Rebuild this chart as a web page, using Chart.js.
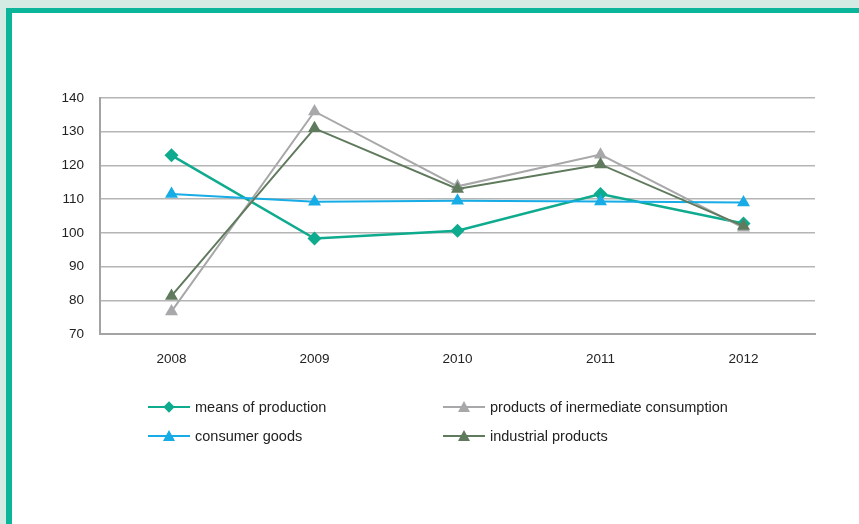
<!DOCTYPE html>
<html>
<head>
<meta charset="utf-8">
<script src="https://cdn.jsdelivr.net/npm/chart.js@4"></script>
<style>
  html, body { margin: 0; padding: 0; }
  body { width: 859px; height: 524px; background: #d3ebe3; position: relative; overflow: hidden; font-family: "Liberation Sans", Arial, sans-serif; }
  #frame { position: absolute; left: 6px; top: 8px; width: 853px; height: 516px; background: #0bb59a; }
  #panel { position: absolute; left: 12px; top: 13px; width: 847px; height: 511px; background: #fff; }
  #chart { position: absolute; left: 0; top: 0; }
  #legend { position: absolute; left: 0; top: 0; width: 859px; height: 524px; pointer-events: none; }
  .item { position: absolute; height: 18px; font-size: 14.5px; color: #222; line-height: 18px; }
  .item .ln { position: absolute; left: 0; top: 8px; width: 42px; height: 2px; }
  .item .mk { position: absolute; }
  .item span { position: absolute; left: 47px; top: 0; white-space: nowrap; }
</style>
</head>
<body>
<div id="frame"></div>
<div id="panel"></div>
<canvas id="chart" width="859" height="524"></canvas>
<div id="legend"></div>
<script>
const years = ['2008', '2009', '2010', '2011', '2012'];
const meansOfProduction = [123, 98.3, 100.6, 111.5, 102.8];
const intermediateProducts = [76.7, 136, 113.8, 123.2, 101.5];
const consumerGoods = [111.5, 109.2, 109.5, 109.3, 109.0];
const industrialProducts = [81.3, 131, 113, 120.3, 102];
const yTicks = [70, 80, 90, 100, 110, 120, 130, 140];

const series = [
    { label: 'means of production', data: meansOfProduction, color: '#0eab8e', shape: 'rectRot', width: 2.5, order: 3, legend: [148, 398] },
    { label: 'products of inermediate consumption', data: intermediateProducts, color: '#a8a8aa', shape: 'triangle', width: 2, order: 2, legend: [443, 398] },
    { label: 'consumer goods', data: consumerGoods, color: '#17ace6', shape: 'triangle', width: 2, order: 1, legend: [148, 427] },
    { label: 'industrial products', data: industrialProducts, color: '#5f7a5c', shape: 'triangle', width: 2, order: 0, legend: [443, 427] }
];

const ctx = document.getElementById('chart').getContext('2d');
new Chart(ctx, {
    type: 'line',
    data: {
        labels: years,
        datasets: series.map(s => ({
            label: s.label,
            data: s.data,
            borderColor: s.color,
            backgroundColor: s.color,
            borderWidth: s.width,
            pointStyle: s.shape,
            pointRadius: s.shape === 'rectRot' ? 7 : 7.5,
            pointBorderWidth: 0,
            pointBackgroundColor: s.color,
            tension: 0,
            order: s.order
        }))
    },
    options: {
        responsive: false,
        animation: false,
        events: [],
        layout: { padding: { left: 0, top: 98, right: 44, bottom: 0 } },
        plugins: { legend: { display: false }, tooltip: { enabled: false } },
        scales: {
            x: {
                offset: true,
                grid: { display: false, drawTicks: false },
                border: { color: '#a3a3a3', width: 2 },
                ticks: { color: '#222', font: { family: 'Liberation Sans', size: 13.5 }, padding: 17 },
                afterFit: axis => { axis.height = 524 - 334; }
            },
            y: {
                min: 70,
                max: 140,
                afterBuildTicks: axis => { axis.ticks = yTicks.map(v => ({ value: v })); },
                grid: { color: '#b5b5b5', lineWidth: 1.5, drawTicks: false },
                border: { color: '#a3a3a3', width: 2 },
                ticks: { color: '#222', font: { family: 'Liberation Sans', size: 13.5 }, padding: 16 },
                afterFit: axis => { axis.width = 100; }
            }
        }
    }
});

// legend in two columns, like the original
const legend = document.getElementById('legend');
series.forEach(s => {
    const el = document.createElement('div');
    el.className = 'item';
    el.style.left = s.legend[0] + 'px';
    el.style.top = s.legend[1] + 'px';
    let marker;
    if (s.shape === 'rectRot') {
        marker = `<div class="mk" style="left:17px;top:5px;width:8px;height:8px;background:${s.color};transform:rotate(45deg)"></div>`;
    } else {
        marker = `<div class="mk" style="left:15px;top:3px;width:0;height:0;border-left:6px solid transparent;border-right:6px solid transparent;border-bottom:11px solid ${s.color}"></div>`;
    }
    el.innerHTML = `<div class="ln" style="background:${s.color}"></div>${marker}<span>${s.label}</span>`;
    legend.appendChild(el);
});
</script>
</body>
</html>
